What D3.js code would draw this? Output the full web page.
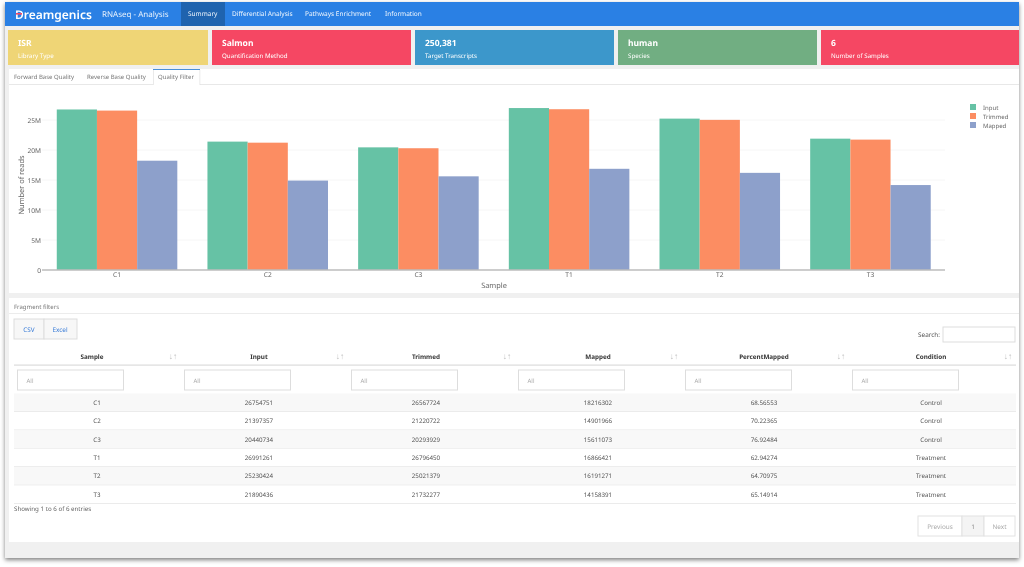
<!DOCTYPE html>
<html>
<head>
<meta charset="utf-8" />
<title>RNAseq - Analysis</title>
<script src="https://cdnjs.cloudflare.com/ajax/libs/d3/7.3.0/d3.min.js"></script>
<style>
  html, body { margin: 0; padding: 0; background: #fff; overflow: hidden; }
  svg { display: block; font-family: "Noto Sans", "Open Sans", sans-serif; text-rendering: geometricPrecision; will-change: transform; }
  .axis path { display: none; }
  .axis line { stroke: none; }
  .axis text { font-size: 6.6px; fill: #666; font-family: "Noto Sans", sans-serif; }
</style>
</head>
<body>
<svg id="page" width="1024" height="567"></svg>
<script>
// DATA
const samples = ["C1", "C2", "C3", "T1", "T2", "T3"];
const input = [26754751, 21397357, 20440734, 26991261, 25230424, 21890436];
const trimmed = [26567724, 21220722, 20293929, 26796450, 25021379, 21732277];
const mapped = [18216302, 14901966, 15611073, 16866421, 16191271, 14158391];
const percentMapped = ["68.56553", "70.22365", "76.92484", "62.94274", "64.70975", "65.14914"];
const condition = ["Control", "Control", "Control", "Treatment", "Treatment", "Treatment"];
const seriesNames = ["Input", "Trimmed", "Mapped"];
const seriesColors = ["#66c2a5", "#fc8d62", "#8da0cb"];
const yTicks = [0, 5e6, 10e6, 15e6, 20e6, 25e6];
const navItems = ["Summary", "Differential Analysis", "Pathways Enrichment", "Information"];
const navX = [188, 232, 305, 385];
const cardTitles = ["ISR", "Salmon", "250,381", "human", "6"];
const cardLabels = ["Library Type", "Quantification Method", "Target Transcripts", "Species", "Number of Samples"];
const cardColors = ["#efd576", "#f54763", "#3c97cb", "#71ae82", "#f54763"];
const cardX = [8, 212, 415, 618, 821];
const cardW = [200, 199, 199, 199, 198];
const tabNames = ["Forward Base Quality", "Reverse Base Quality", "Quality Filter"];
const tabX = [14, 87, 158];
const columns = ["Sample", "Input", "Trimmed", "Mapped", "PercentMapped", "Condition"];
const columnX = [92, 259, 426, 598, 764, 931];

const svg = d3.select("#page");

const rect = (x, y, w, h, fill, stroke) => svg.append("rect")
  .attr("x", x).attr("y", y).attr("width", w).attr("height", h)
  .attr("fill", fill).attr("stroke", stroke || "none");
const label = (x, y, s, size, fill, weight, anchor) => svg.append("text")
  .attr("x", x).attr("y", y).text(s)
  .attr("font-size", size).attr("fill", fill)
  .attr("font-weight", weight || 400).attr("text-anchor", anchor || "start");

// window frame
const defs = svg.append("defs");
const shadow = defs.append("filter").attr("id", "shadow")
  .attr("x", "-2%").attr("y", "-2%").attr("width", "104%").attr("height", "104%");
shadow.append("feDropShadow").attr("dx", 0).attr("dy", 2).attr("stdDeviation", 2)
  .attr("flood-color", "#000").attr("flood-opacity", 0.5);
rect(5, 2, 1014, 556, "#f0f0f0").attr("filter", "url(#shadow)");

// navbar
rect(5, 2, 1014, 24, "#2a80e4");
rect(181, 2, 44, 24, "#1f63ae");
label(15, 19, "Dreamgenics", 12, "#fff", 600);
rect(16, 13, 6, 1.6, "#f54763");
label(102, 16.5, "RNAseq - Analysis", 8, "#e8f1fc");
svg.selectAll("text.nav").data(navItems).join("text")
  .attr("class", "nav")
  .attr("x", (d, i) => navX[i]).attr("y", 16)
  .attr("font-size", 6.5).attr("fill", "#f2f7fd").text(d => d);

// value boxes
const cards = svg.selectAll("g.card").data(cardTitles).join("g")
  .attr("class", "card")
  .attr("transform", (d, i) => `translate(${cardX[i]},30)`);
cards.append("rect").attr("width", (d, i) => cardW[i]).attr("height", 35)
  .attr("fill", (d, i) => cardColors[i]);
cards.append("text").attr("x", 10).attr("y", 15.5).attr("font-size", 8.5)
  .attr("font-weight", 700).attr("fill", "#fff").text(d => d);
cards.append("text").attr("x", 10).attr("y", 27.5).attr("font-size", 6.2)
  .attr("fill", "#fff").text((d, i) => cardLabels[i]);

// tabs
rect(9, 69, 1010, 224, "#fff");
rect(9, 84, 1010, 0.8, "#e3e3e3");
rect(153, 69, 47, 16, "#fff");
rect(153, 69, 47, 1, "#4a90d9");
rect(153, 70, 0.6, 15, "#ddd");
rect(199.6, 70, 0.6, 15, "#ddd");
svg.selectAll("text.tab").data(tabNames).join("text")
  .attr("class", "tab")
  .attr("x", (d, i) => tabX[i]).attr("y", 79)
  .attr("font-size", 6).attr("fill", "#777").text(d => d);

// bar chart
const x0 = d3.scaleBand().domain(samples).range([41.7, 945.8]).paddingInner(0.2).paddingOuter(0.1);
const x1 = d3.scaleBand().domain(seriesNames).range([0, x0.bandwidth()]);
const y = d3.scaleLinear().domain([0, 25e6]).range([270, 120]);
const seriesValues = [input, trimmed, mapped];

svg.append("g").selectAll("line").data(yTicks.slice(1)).join("line")
  .attr("x1", 42).attr("x2", 945)
  .attr("y1", d => y(d)).attr("y2", d => y(d))
  .attr("stroke", "#f4f4f4").attr("stroke-width", 0.8);

svg.append("g").selectAll("g").data(seriesNames).join("g")
  .attr("fill", (d, i) => seriesColors[i])
  .selectAll("rect")
  .data((d, i) => seriesValues[i].map((v, j) => ({ s: samples[j], name: d, v })))
  .join("rect")
  .attr("x", d => x0(d.s) + x1(d.name))
  .attr("y", d => y(d.v))
  .attr("width", x1.bandwidth())
  .attr("height", d => y(0) - y(d.v));

svg.append("line").attr("x1", 42).attr("x2", 945).attr("y1", y(0)).attr("y2", y(0))
  .attr("stroke", "#bdbdbd").attr("stroke-width", 1.4);

svg.append("g").attr("class", "axis").attr("transform", "translate(42,0)")
  .call(d3.axisLeft(y).tickValues(yTicks).tickSize(0).tickPadding(1)
    .tickFormat(d => d === 0 ? "0" : d3.format("~s")(d)));
svg.append("g").attr("class", "axis").attr("transform", "translate(0,270)")
  .call(d3.axisBottom(x0).tickSize(0).tickPadding(2));

label(494, 288, "Sample", 7.4, "#666", 400, "middle");
svg.append("text").attr("transform", "translate(23.5,185) rotate(-90)")
  .attr("text-anchor", "middle").attr("font-size", 7.4).attr("fill", "#666").text("Number of reads");

// legend
const legend = svg.append("g").selectAll("g").data(seriesNames).join("g")
  .attr("transform", (d, i) => `translate(970,${104 + i * 9})`);
legend.append("rect").attr("width", 6).attr("height", 6).attr("fill", (d, i) => seriesColors[i]);
legend.append("text").attr("x", 13).attr("y", 5.5).attr("font-size", 6).attr("fill", "#666").text(d => d);

// table panel
rect(9, 298, 1010, 244, "#fff");
rect(9, 313, 1010, 0.8, "#e8e8e8");
label(14, 309, "Fragment filters", 6, "#777");

rect(14, 319, 30, 20, "#f7f7f7", "#ddd");
rect(44, 319, 33, 20, "#f7f7f7", "#ddd");
label(29, 331.5, "CSV", 6.4, "#3b7dd8", 400, "middle");
label(60, 331.5, "Excel", 6.4, "#3b7dd8", 400, "middle");

label(940, 336.5, "Search:", 6.4, "#555", 400, "end");
rect(943, 327, 72, 15, "#fff", "#ddd");

const rows = samples.map((s, i) => [s, input[i], trimmed[i], mapped[i], percentMapped[i], condition[i]]);
const rowH = 18.4;

svg.selectAll("text.head").data(columns).join("text")
  .attr("class", "head")
  .attr("x", (d, i) => columnX[i]).attr("y", 358.5)
  .attr("text-anchor", "middle").attr("font-size", 6.3).attr("font-weight", 700)
  .attr("fill", "#333").text(d => d);
svg.selectAll("text.sort").data(columns).join("text")
  .attr("class", "sort")
  .attr("x", (d, i) => 173 + i * 167).attr("y", 358.5)
  .attr("text-anchor", "middle").attr("font-size", 8.5).attr("fill", "#c4c4c4").text("↓↑");
rect(14, 364.5, 1002, 1.2, "#dcdcdc");

svg.selectAll("g.filter").data(columns).join("g")
  .attr("class", "filter")
  .attr("transform", (d, i) => `translate(${17.5 + i * 167},370)`)
  .call(g => g.append("rect").attr("width", 106).attr("height", 20).attr("fill", "#fff").attr("stroke", "#ddd"))
  .call(g => g.append("text").attr("x", 9).attr("y", 12.5).attr("font-size", 6).attr("fill", "#aaa").text("All"));

const tr = svg.selectAll("g.row").data(rows).join("g")
  .attr("class", "row")
  .attr("transform", (d, i) => `translate(14,${393.5 + i * rowH})`);
tr.append("rect").attr("width", 1002).attr("height", rowH)
  .attr("fill", (d, i) => i % 2 ? "#fff" : "#f8f8f8");
tr.append("rect").attr("y", rowH - 0.7).attr("width", 1002).attr("height", 0.7).attr("fill", "#e2e2e2");
tr.selectAll("text").data(d => d).join("text")
  .attr("x", (d, i) => columnX[i] - 14 + (i == 0 ? 5 : 0)).attr("y", 11.3)
  .attr("text-anchor", "middle").attr("font-size", 6.2).attr("fill", "#555")
  .text(d => d);

label(14, 511, `Showing 1 to ${samples.length} of ${samples.length} entries`, 6.2, "#666");

// pagination
rect(918, 516, 44, 20, "#fff", "#e2e2e2");
rect(962, 516, 22, 20, "#f4f4f4", "#e2e2e2");
rect(984, 516, 31, 20, "#fff", "#e2e2e2");
label(940, 528.5, "Previous", 6.4, "#aaa", 400, "middle");
label(973, 528.5, "1", 6.4, "#888", 400, "middle");
label(999.5, 528.5, "Next", 6.4, "#aaa", 400, "middle");
</script>
</body>
</html>
